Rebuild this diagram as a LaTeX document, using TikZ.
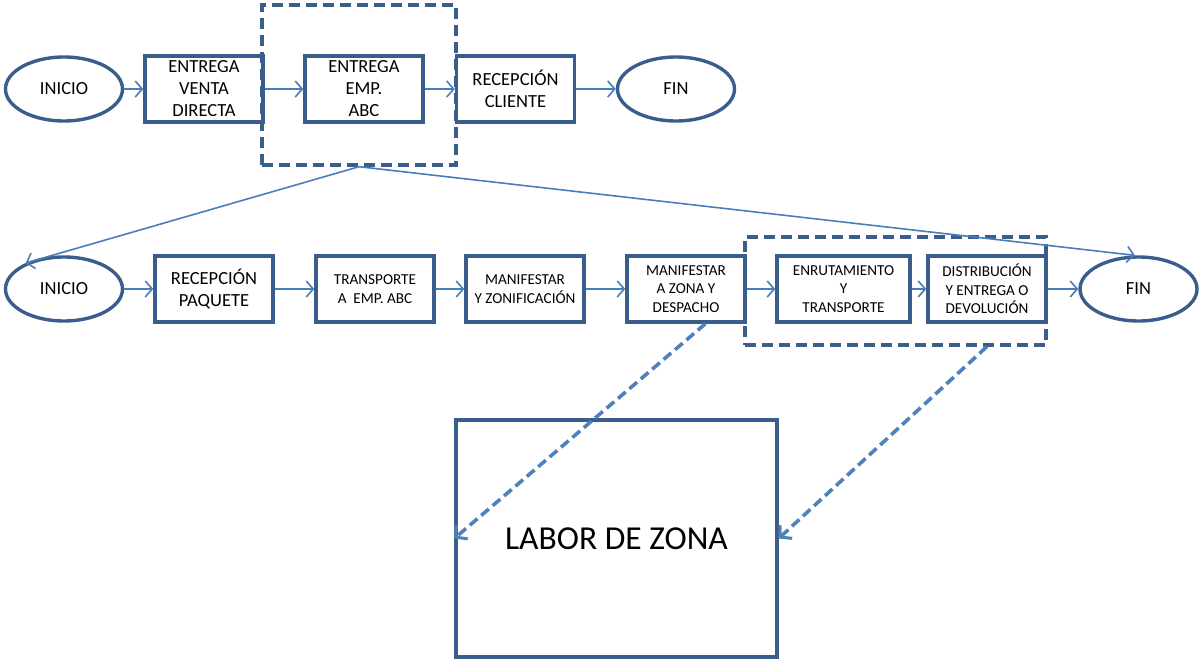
\documentclass[tikz,border=0pt]{standalone}
\usepackage{fontspec}
\setmainfont{Carlito}
\usetikzlibrary{shapes.geometric,arrows.meta,calc}
\definecolor{boxc}{RGB}{58,94,140}
\definecolor{connc}{RGB}{74,126,187}
\definecolor{dashc}{RGB}{79,129,189}
\begin{document}
\begin{tikzpicture}[x=1pt,y=-1pt,
  big/.style={font=\fontsize{18.5}{22}\selectfont},
  small/.style={font=\fontsize{15.2}{18.5}\selectfont},
  stepbox/.style={draw=boxc,line width=3.4pt,rectangle,minimum width=118pt,minimum height=66pt,inner sep=0pt,align=center,fill=none},
  oval/.style={draw=boxc,line width=3.4pt,ellipse,minimum width=117pt,minimum height=64pt,inner sep=0pt,big},
  groupbox/.style={draw=boxc,line width=3.4pt,dash pattern=on 11pt off 6pt,rectangle,inner sep=0pt},
  conn/.style={draw=connc,line width=1.6pt,-{Straight Barb[length=7pt,width=16pt,line width=1.6pt]}},
  dconn/.style={draw=dashc,line width=3.6pt,dash pattern=on 10pt off 5pt,-{Straight Barb[length=8pt,width=18pt,line width=3pt]}}]
\useasboundingbox (0,0) rectangle (1199,660);
% group boxes
\node[groupbox,minimum width=194pt,minimum height=160pt] (g1) at (359,85) {};
\node[groupbox,minimum width=301pt,minimum height=108pt] (g2) at (895.5,291) {};
% top row
\node[oval] (i1) at (64,89) {INICIO};
\node[stepbox,big] (t1) at (204,89) {ENTREGA\\VENTA\\DIRECTA};
\node[stepbox,big] (t2) at (364,89) {ENTREGA\\EMP.\\ABC};
\node[stepbox,big] (t3) at (515.5,89) {RECEPCIÓN\\CLIENTE};
\node[oval] (f1) at (676,89) {FIN};
% bottom row
\node[oval] (i2) at (64,289) {INICIO};
\node[stepbox,big] (b1) at (214,289) {RECEPCIÓN\\PAQUETE};
\node[stepbox,small] (b2) at (375,289) {TRANSPORTE\\A~~EMP. ABC};
\node[stepbox,small] (b3) at (525,289) {MANIFESTAR\\Y ZONIFICACIÓN};
\node[stepbox,small] (b4) at (686,289) {MANIFESTAR\\A ZONA Y\\DESPACHO};
\node[stepbox,small,minimum width=133pt] (b5) at (843.5,289) {ENRUTAMIENTO\\Y\\TRANSPORTE};
\node[stepbox,small] (b6) at (987,289) {DISTRIBUCIÓN\\Y ENTREGA O\\DEVOLUCIÓN};
\node[oval] (f2) at (1138.5,289) {FIN};
% labor
\node[draw=boxc,line width=3.4pt,rectangle,minimum width=321pt,minimum height=237pt,inner sep=0pt,font=\fontsize{33.5}{40}\selectfont] (lab) at (616.5,538.5) {LABOR DE ZONA};
% connectors top
\draw[conn] (i1) -- (t1);
\draw[conn] (t1) -- (t2);
\draw[conn] (t2) -- (t3);
\draw[conn] (t3) -- (f1);
% group to lower row
\draw[conn] (g1.south) -- (i2.146);
\draw[conn] (g1.south) -- (f2.96);
% connectors bottom
\draw[conn] (i2) -- (b1);
\draw[conn] (b1) -- (b2);
\draw[conn] (b2) -- (b3);
\draw[conn] (b3) -- (b4);
\draw[conn] (b4) -- (b5);
\draw[conn] (b5) -- (b6);
\draw[conn] (b6) -- (f2);
% dashed arrows
\draw[dconn] ($(b4.south west)!0.66!(b4.south east)$) -- (lab.west);
\draw[dconn] ($(g2.south west)!0.8!(g2.south east)$) -- (lab.east);
\end{tikzpicture}
\end{document}
